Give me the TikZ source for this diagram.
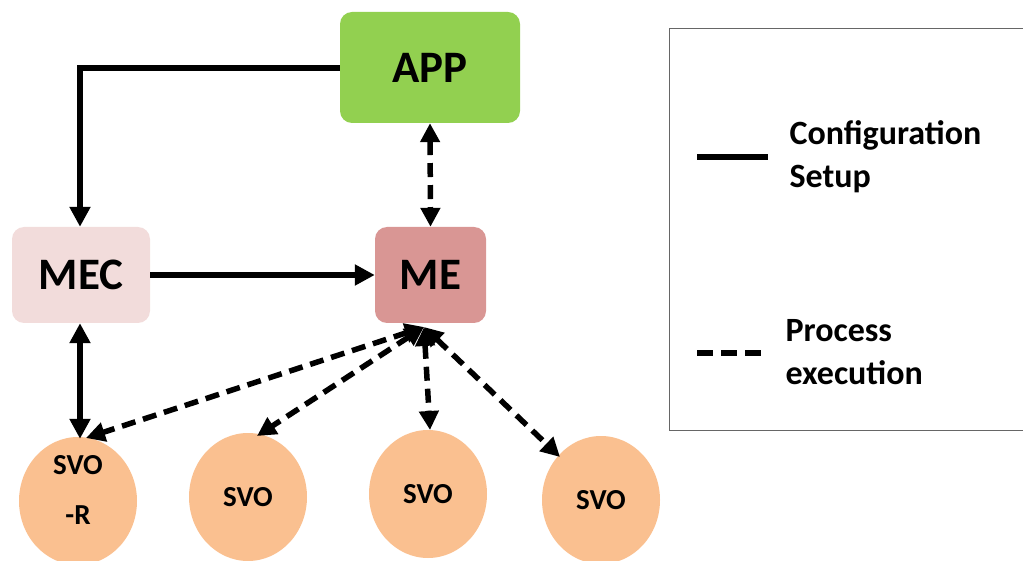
\documentclass[tikz,border=0pt]{standalone}
\usepackage{fontspec}
\setmainfont{Carlito}
\usetikzlibrary{arrows.meta,shapes.geometric}
\definecolor{appgreen}{HTML}{92D050}
\definecolor{mecpink}{HTML}{F2DCDB}
\definecolor{merose}{HTML}{D99694}
\definecolor{svopeach}{HTML}{FAC090}
\begin{document}
\begin{tikzpicture}[x=1pt,y=-1pt,
  box/.style={rounded corners=12pt,inner sep=0pt,font=\bfseries\fontsize{45}{48}\selectfont},
  svo/.style={ellipse,inner sep=0pt,fill=svopeach,minimum width=118pt,minimum height=128pt,font=\bfseries\fontsize{29}{50}\selectfont,align=center},
  svotext/.style={inner sep=0pt,font=\bfseries\fontsize{29}{50}\selectfont,align=center},
  conf/.style={line width=5.5pt,-{Triangle[length=20pt,width=20pt]}},
  confb/.style={line width=5.5pt,{Triangle[length=20pt,width=20pt]}-{Triangle[length=20pt,width=20pt]}},
  proc/.style={line width=5.5pt,dash pattern=on 14pt off 8pt,{Triangle[length=19pt,width=19pt]}-{Triangle[length=19pt,width=19pt]}},
  legtext/.style={font=\bfseries\fontsize{34}{43}\selectfont,align=left,anchor=west}]
\useasboundingbox (0,0) rectangle (1023,561);
% boxes
\node[box,fill=appgreen,minimum width=180pt,minimum height=111pt] (app) at (430,67.5) {APP};
\node[box,fill=mecpink,minimum width=138pt,minimum height=96pt] (mec) at (81,275) {MEC};
\node[box,fill=merose,minimum width=111pt,minimum height=96pt] (me) at (430.5,275) {ME};
% SVOs
\node[svo] (s1) at (78,501) {};
\node[svotext] (s1t) at (78,490) {SVO\\-R};
\node[svo] (s2) at (248,497) {SVO};
\node[svo] (s3) at (428,494) {SVO};
\node[svo] (s4) at (601,500) {SVO};
% configuration arrows
\coordinate (corner) at (80,68);
\draw[conf] (app.west |- corner) -- (corner) -- (mec.north -| corner);
\draw[conf] (mec.east) -- (me.west);
\draw[confb] (mec.south -| corner) -- ([yshift=-2pt]s1.north -| corner);
% process arrows
\draw[proc] (app.south) -- (me.north);
\coordinate (mehub) at (424,327);
\draw[proc] (mehub) -- (86,438);
\draw[proc] (mehub) -- (257,436);
\draw[proc] (mehub) -- (430,430);
\draw[proc] (mehub) -- (560,457);
% legend
\draw[gray!80!black,line width=1pt] (669,29) rectangle (1030,430);
\coordinate (l1a) at (697,157);
\coordinate (l1b) at (768,157);
\draw[line width=5.5pt] (l1a) -- (l1b);
\node[legtext] (lt1) at (786,157) {Configuration\\Setup};
\coordinate (l2a) at (697,353);
\coordinate (l2b) at (768,353);
\draw[line width=5.5pt,dash pattern=on 16pt off 8pt] (l2a) -- (l2b);
\node[legtext] (lt2) at (782,352) {Process\\execution};
\end{tikzpicture}
\end{document}
